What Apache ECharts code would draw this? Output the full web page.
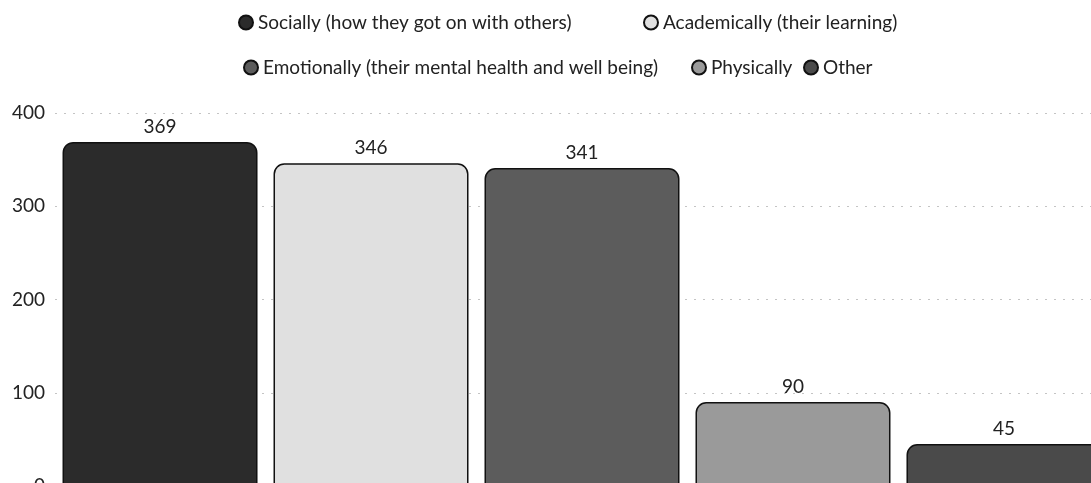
<!DOCTYPE html>
<html>
<head>
<meta charset="utf-8">
<script src="https://cdn.jsdelivr.net/npm/echarts@6/dist/echarts.min.js"></script>
<style>html,body{margin:0;padding:0;background:#fff}#c{width:1091px;height:483px}</style>
</head>
<body>
<div id="c"></div>
<script>
const seriesNames = [
  'Socially (how they got on with others)',
  'Academically (their learning)',
  'Emotionally (their mental health and well being)',
  'Physically',
  'Other'
];
const seriesValues = [369, 346, 341, 90, 45];
const seriesColors = ['#2b2b2b', '#e0e0e0', '#5c5c5c', '#9a9a9a', '#4a4a4a'];
const categories = [''];
const yTicks = [0, 100, 200, 300, 400];

const font = 'Lato';
const legendPos = [[233, 8], [638, 8], [238, 53], [686, 53], [798, 53]];
const chart = echarts.init(document.getElementById('c'), null, {renderer: 'canvas'});
const series = seriesNames.map((n, i) => ({
  name: n,
  type: 'bar',
  data: [seriesValues[i]],
  barWidth: 195,
  barGap: '8.2%',
  itemStyle: {color: seriesColors[i], borderColor: '#111', borderWidth: 1.5, borderRadius: [10, 10, 0, 0]},
  label: {show: true, position: 'top', color: '#222', fontFamily: font, fontSize: 19, distance: 6}
}));
const legends = seriesNames.map((n, i) => ({
  data: [n], left: legendPos[i][0], top: legendPos[i][1], itemWidth: 14, itemHeight: 14, icon: 'circle',
  textStyle: {fontFamily: font, fontSize: 19, color: '#222'}
}));
chart.setOption({
  animation: false,
  legend: legends,
  grid: {left: 55, right: -18, top: 113, bottom: -3, outerBoundsMode: 'none', containLabel: false},
  xAxis: {type: 'category', data: categories, axisLine: {show: false}, axisTick: {show: false}, axisLabel: {show: false}},
  yAxis: {type: 'value', min: yTicks[0], max: yTicks[yTicks.length - 1], interval: 100,
    axisLabel: {fontFamily: font, fontSize: 19, color: '#222', margin: 10},
    axisLine: {show: false}, axisTick: {show: false},
    splitLine: {lineStyle: {color: '#c4c4c4', type: [2, 7], width: 1}}},
  series: series
});
</script>
</body>
</html>
